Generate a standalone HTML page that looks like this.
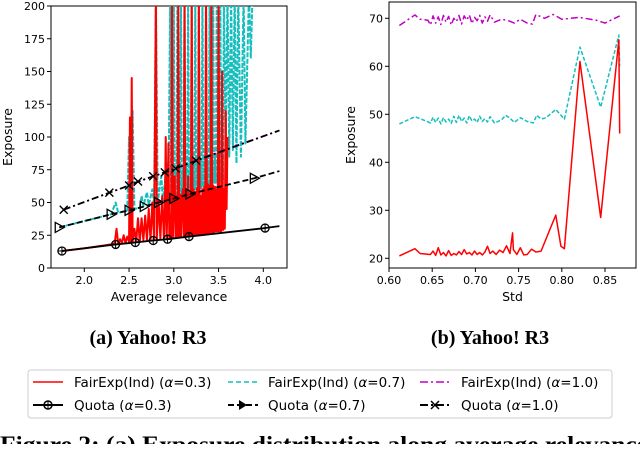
<!DOCTYPE html>
<html><head><meta charset="utf-8"><style>
body{margin:0;background:#fff;width:640px;height:444px;overflow:hidden}
svg text{font-family:"DejaVu Sans","Liberation Sans",sans-serif}
</style></head><body>
<svg id="fig" width="640" height="444" viewBox="0 0 640 444" xmlns="http://www.w3.org/2000/svg">
<defs>
<clipPath id="clipA"><rect x="51" y="6" width="236" height="262"/></clipPath>
<clipPath id="clipB"><rect x="389" y="2" width="247" height="266"/></clipPath>
</defs>
<g id="chartA"></g>
<g id="chartB"></g>
<text x="148" y="344" font-size="20" font-weight="bold" text-anchor="middle" style="font-family:'Liberation Serif',serif">(a) Yahoo! R3</text>
<text x="490" y="344" font-size="20" font-weight="bold" text-anchor="middle" style="font-family:'Liberation Serif',serif">(b) Yahoo! R3</text>
<g>
<rect x="28" y="370" width="584" height="48" rx="3" fill="#fff" stroke="#ccc" stroke-width="1"/>
<line x1="33" y1="382" x2="63" y2="382" stroke="red" stroke-width="1.5"/>
<text x="74" y="387" font-size="13.5">FairExp(Ind) (<tspan font-style="italic">α</tspan>=0.3)</text>
<line x1="228" y1="382" x2="258" y2="382" stroke="#17bebe" stroke-width="1.5" stroke-dasharray="5,3"/>
<text x="268" y="387" font-size="13.5">FairExp(Ind) (<tspan font-style="italic">α</tspan>=0.7)</text>
<line x1="420" y1="382" x2="450" y2="382" stroke="#c000c0" stroke-width="1.5" stroke-dasharray="8,3,2,3"/>
<text x="461" y="387" font-size="13.5">FairExp(Ind) (<tspan font-style="italic">α</tspan>=1.0)</text>
<line x1="33" y1="405" x2="63" y2="405" stroke="#000" stroke-width="2"/>
<circle cx="48" cy="405" r="4" fill="none" stroke="#000" stroke-width="1.5"/><line x1="48" y1="401" x2="48" y2="409" stroke="#000"/>
<text x="74" y="410" font-size="13.5">Quota (<tspan font-style="italic">α</tspan>=0.3)</text>
<line x1="228" y1="405" x2="258" y2="405" stroke="#000" stroke-width="2" stroke-dasharray="6,3"/>
<polygon points="239,400 247,405 239,410" fill="#000"/>
<text x="268" y="410" font-size="13.5">Quota (<tspan font-style="italic">α</tspan>=0.7)</text>
<line x1="420" y1="405" x2="450" y2="405" stroke="#000" stroke-width="2" stroke-dasharray="8,3,2,3"/>
<path d="M431,401 L439,409 M431,409 L439,401" stroke="#000" stroke-width="1.5"/>
<text x="461" y="410" font-size="13.5">Quota (<tspan font-style="italic">α</tspan>=1.0)</text>
</g>
<text x="0" y="452" font-size="23" font-weight="bold" textLength="648" lengthAdjust="spacingAndGlyphs" style="font-family:'Liberation Serif',serif">Figure 2: (a) Exposure distribution along average relevance</text>
</svg>
<script>
// ---- Chart A data ----
const aXTicks=[2.0,2.5,3.0,3.5,4.0];
const aYTicks=[0,25,50,75,100,125,150,175,200];
const redAX=[1.75,2.0,2.2,2.30,2.34,2.36,2.38,2.40,2.42,2.44,2.46,2.48,2.50,2.51,2.52,2.53,2.54,2.56,2.58,2.60,2.62,2.64,2.66,2.68,2.70,2.72,2.74,2.76,2.78,2.80,2.81,2.83,2.85,2.87,2.89,2.90,2.91,2.92,2.93,2.94,2.95,2.96,2.97,2.98,2.99,3.00,3.01,3.02,3.03,3.04,3.05,3.06,3.07,3.08,3.09,3.10,3.11,3.12,3.13,3.14,3.15,3.16,3.17,3.18,3.19,3.20,3.21,3.22,3.23,3.24,3.25,3.26,3.27,3.28,3.29,3.30,3.31,3.32,3.33,3.34,3.35,3.36,3.37,3.38,3.39,3.40,3.41,3.42,3.43,3.44,3.45,3.46,3.47,3.48,3.49,3.50,3.51,3.52,3.53,3.54,3.55,3.56,3.57,3.58,3.59,3.60];
const redAY=[13,15,17,18,19,30,18,22,19,25,19,24,20,115,20,145,20,30,20,38,20,38,21,40,21,45,21,50,22,210,22,52,22,55,22,45,100,22,48,95,23,40,23,210,23,50,70,23,55,24,210,24,56,24,52,60,24,210,24,58,24,70,25,57,25,210,25,60,25,58,25,61,25,210,26,55,26,60,26,62,26,210,26,64,26,63,27,210,27,63,27,62,28,60,28,210,28,62,28,150,29,60,30,120,45,100,44,60];
const cyanAX=[1.72,2.30,2.35,2.38,2.48,2.50,2.52,2.54,2.56,2.62,2.64,2.66,2.70,2.72,2.76,2.78,2.80,2.82,2.86,2.88,2.92,2.94,2.96,2.97,2.98,2.99,3.00,3.01,3.02,3.03,3.04,3.05,3.06,3.07,3.08,3.09,3.10,3.11,3.12,3.13,3.14,3.15,3.16,3.17,3.18,3.19,3.20,3.21,3.22,3.23,3.24,3.25,3.26,3.27,3.28,3.29,3.30,3.31,3.32,3.33,3.34,3.35,3.36,3.37,3.38,3.39,3.40,3.41,3.42,3.43,3.44,3.45,3.46,3.47,3.48,3.49,3.50,3.51,3.52,3.53,3.54,3.55,3.56,3.58,3.60,3.62,3.64,3.66,3.68,3.70,3.72,3.75,3.78,3.80,3.84,3.86,3.88];
const cyanAY=[31,41,50,42,44,100,44,120,45,46,55,47,58,48,60,49,210,50,70,51,80,52,210,53,80,53,210,54,78,54,210,55,82,55,210,56,76,56,210,57,80,57,210,58,84,58,210,59,78,59,210,60,82,60,210,61,80,61,210,62,84,62,210,63,82,63,210,64,86,64,210,65,84,65,210,66,88,66,210,67,86,67,210,90,210,85,210,90,210,80,210,85,210,95,210,160,210];
const magAX=[1.77,2.28,2.5,2.77,3.02,3.4,3.6,3.8,4.18];
const magAY=[44.5,57.5,63,70,76,86,91,96,105];
const q3X=[1.75,2.35,2.57,2.77,2.93,3.17,4.02,4.18];
const q3Y=[13,18,19.5,21,22,24,30.5,32];
const q3M=[1,1,1,1,1,1,1,0];
const q7X=[1.72,2.30,2.50,2.67,2.83,3.00,3.18,3.90,4.18];
const q7Y=[31,41,44,47,50,53,56.5,68.5,74];
const q7M=[1,1,1,1,1,1,1,1,0];
const q10X=[1.77,2.28,2.50,2.60,2.77,2.90,3.02,3.25,4.18];
const q10Y=[44.5,57.5,63,66,70,73,76,82,105];
const q10M=[1,1,1,1,1,1,1,1,0];
// ---- Chart B data ----
const bXTicks=[0.60,0.65,0.70,0.75,0.80,0.85];
const bYTicks=[20,30,40,50,60,70];
const magBX=[0.612,0.630,0.636,0.645,0.648,0.651,0.654,0.657,0.660,0.663,0.666,0.669,0.672,0.675,0.678,0.681,0.684,0.687,0.690,0.693,0.696,0.699,0.702,0.705,0.708,0.711,0.714,0.717,0.722,0.730,0.738,0.745,0.752,0.760,0.766,0.770,0.780,0.790,0.800,0.820,0.840,0.850,0.867];
const magBY=[68.5,70.7,69.8,69.6,68.6,70.5,69.0,70.3,68.7,70.6,69.2,70.4,68.6,70.0,69.3,70.6,68.8,70.5,69.6,70.7,68.9,70.2,69.5,70.6,69.0,70.3,69.4,70.7,69.2,69.8,69.5,69.0,69.8,69.0,68.8,70.8,70.0,70.8,69.8,70.2,69.6,69.0,70.5];
const cyanBX=[0.612,0.630,0.640,0.648,0.651,0.654,0.657,0.660,0.663,0.666,0.669,0.672,0.675,0.678,0.681,0.684,0.687,0.690,0.693,0.696,0.699,0.702,0.705,0.708,0.711,0.714,0.717,0.722,0.730,0.735,0.740,0.745,0.752,0.760,0.767,0.771,0.776,0.782,0.793,0.803,0.821,0.845,0.866,0.867];
const cyanBY=[48,49.5,48.8,48.2,49.4,48.3,49.2,48.0,49.3,48.4,49.0,48.1,49.6,48.3,49.8,48.5,49.2,48.2,49.7,48.6,49.0,48.3,49.6,48.5,49.1,48.4,49.5,48.2,48.8,49.8,49.2,48.3,49.3,48.5,48.2,49.8,49.0,49.3,51,49,64,51.5,66.5,60];
const redBX=[0.612,0.630,0.636,0.648,0.651,0.654,0.657,0.660,0.663,0.666,0.669,0.672,0.675,0.678,0.681,0.684,0.687,0.690,0.693,0.696,0.699,0.702,0.705,0.708,0.711,0.714,0.717,0.720,0.724,0.728,0.732,0.736,0.740,0.743,0.744,0.748,0.752,0.756,0.760,0.765,0.770,0.776,0.793,0.799,0.803,0.821,0.845,0.866,0.867];
const redBY=[20.5,22,21,20.8,21.5,20.6,22.2,20.7,21.2,20.5,21.6,20.6,21.0,20.7,21.4,20.8,21.8,20.9,21.2,20.7,21.5,20.8,21.2,20.7,21.3,22.5,21.0,21.5,20.8,21.7,21.2,22.6,21.0,25.3,21.8,20.8,22.2,20.7,20.8,21.9,21.3,21.5,29,22.5,22,61,28.5,65.5,46];

const NS='http://www.w3.org/2000/svg';
function mk(tag,attrs,parent){const e=document.createElementNS(NS,tag);for(const k in attrs)e.setAttribute(k,attrs[k]);parent.appendChild(e);return e;}
const ax=x=>84.3+(x-2.0)*89.5, ay=y=>268-y*1.31;
const bx=x=>389+(x-0.60)*864, by=y=>258.3-(y-20)*4.8;
const gA=document.getElementById('chartA'), gB=document.getElementById('chartB');

function axes(g,L,T,R,B,xt,yt,fx,fy,xfmt,yfmt,xlabel,ylabel,ylx){
  const fr=mk('rect',{x:L,y:T,width:R-L,height:B-T,fill:'none',stroke:'#000','stroke-width':1},g);
  
  
  xt.forEach(v=>{const x=fx(v);
    mk('line',{x1:x,y1:B,x2:x,y2:B+4,stroke:'#000'},g);
    const t=mk('text',{x:x,y:B+16,'font-size':11,'text-anchor':'middle'},g);t.textContent=v.toFixed(xfmt);
    
    });
  yt.forEach(v=>{const y=fy(v);
    mk('line',{x1:L-4,y1:y,x2:L,y2:y,stroke:'#000'},g);
    const t=mk('text',{x:L-6,y:y+4,'font-size':11,'text-anchor':'end'},g);t.textContent=v.toFixed(yfmt);
    
    });
  const xl=mk('text',{x:(L+R)/2,y:B+33,'font-size':12.5,'text-anchor':'middle'},g);xl.textContent=xlabel;
  
  
  const yl=mk('text',{x:ylx,y:(T+B)/2,'font-size':12.5,'text-anchor':'middle',transform:`rotate(-90 ${ylx} ${(T+B)/2})`},g);yl.textContent=ylabel;
  
  
}
function line(g,X,Y,fx,fy,stroke,w,dash,clip,name){
  const p=mk('polyline',{points:X.map((x,i)=>fx(x)+','+fy(Y[i])).join(' '),fill:'none',stroke:stroke,'stroke-width':w,'clip-path':`url(#${clip})`,'stroke-linejoin':'round'},g);
  if(dash)p.setAttribute('stroke-dasharray',dash);
  
  
}
function markers(g,X,Y,M,type,name){
  X.forEach((x,i)=>{if(!M[i])return;const cx=ax(x),cy=ay(Y[i]);let e;
    if(type==='o'){e=mk('g',{},g);mk('circle',{cx:cx,cy:cy,r:4,fill:'none',stroke:'#000','stroke-width':1.3},e);mk('line',{x1:cx,y1:cy-4,x2:cx,y2:cy+4,stroke:'#000'},e);mk('line',{x1:cx-4,y1:cy,x2:cx+4,y2:cy,stroke:'#000'},e);}
    else if(type==='>'){e=mk('polygon',{points:`${cx-4},${cy-5} ${cx+5},${cy} ${cx-4},${cy+5}`,fill:'none',stroke:'#000','stroke-width':1.3},g);}
    else{e=mk('path',{d:`M${cx-4},${cy-4}L${cx+4},${cy+4}M${cx-4},${cy+4}L${cx+4},${cy-4}`,stroke:'#000','stroke-width':1.4},g);}
    
    });
}
axes(gA,51,6,287,268,aXTicks,aYTicks,ax,ay,1,0,'Average relevance','Exposure',12);
line(gA,cyanAX,cyanAY,ax,ay,'#17bebe',2,'5,1.5','clipA','fairexp-07-line');
line(gA,redAX,redAY,ax,ay,'red',2,null,'clipA','fairexp-03-line');
line(gA,magAX,magAY,ax,ay,'#c000c0',1.5,'7,3,2,3','clipA','fairexp-10-line');
line(gA,q3X,q3Y,ax,ay,'#000',1.8,null,'clipA','quota-03-line');
line(gA,q7X,q7Y,ax,ay,'#000',1.8,'6,3','clipA','quota-07-line');
line(gA,q10X,q10Y,ax,ay,'#000',1.8,'7,3,2,3','clipA','quota-10-line');
markers(gA,q3X,q3Y,q3M,'o','quota-03-marker');
markers(gA,q7X,q7Y,q7M,'>','quota-07-marker');
markers(gA,q10X,q10Y,q10M,'x','quota-10-marker');

axes(gB,389,2,636,268,bXTicks,bYTicks,bx,by,2,0,'Std','Exposure',355);
line(gB,magBX,magBY,bx,by,'#c000c0',1.5,'7,3,2,3','clipB','fairexp-10-line');
line(gB,cyanBX,cyanBY,bx,by,'#17bebe',1.5,'4,2','clipB','fairexp-07-line');
line(gB,redBX,redBY,bx,by,'red',1.5,null,'clipB','fairexp-03-line');
</script>
</body></html>
